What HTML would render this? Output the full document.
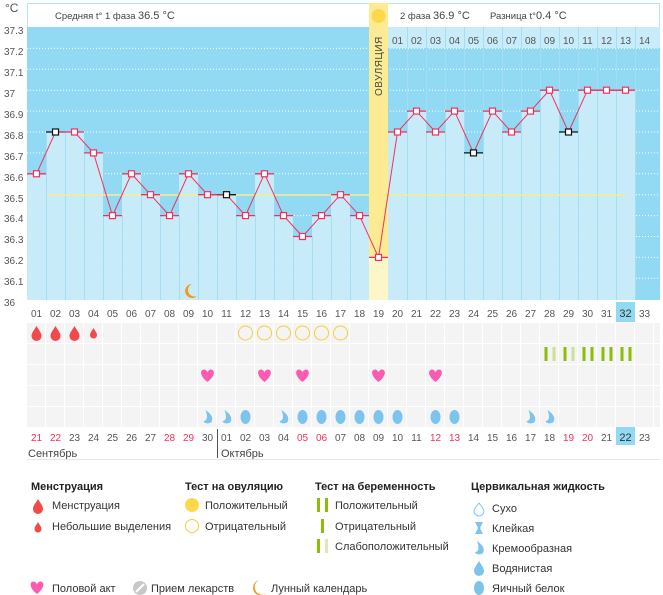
<!DOCTYPE html>
<html><head><meta charset="utf-8"><style>
html,body{margin:0;padding:0;background:#fff;}
svg{display:block;font-family:"Liberation Sans",sans-serif;}
.t{font-size:10px;fill:#555;}
.d{font-size:10px;fill:#555;text-anchor:middle;}
.h{font-size:11px;font-weight:bold;fill:#222;}
.l{font-size:11px;fill:#333;}
</style></head><body>
<svg width="663" height="595" viewBox="0 0 663 595">
<defs>
<pattern id="gp" x="27" y="0" width="19" height="595" patternUnits="userSpaceOnUse">
<rect x="0" y="0" width="18" height="595" fill="#f4f4f4"/></pattern>
<path id="drop" d="M0,-7 C3,-2 5,0 5,3 A5,5 0 0 1 -5,3 C-5,0 -3,-2 0,-7Z"/>
<path id="sdrop" d="M0,-5 C2,-1.5 3.5,0 3.5,2 A3.5,3.5 0 0 1 -3.5,2 C-3.5,0 -2,-1.5 0,-5Z"/>
<path id="heart" d="M0,6 C-9,-1 -7,-7 -3,-6.5 C-1.5,-6 0,-4.5 0,-3.5 C0,-4.5 1.5,-6 3,-6.5 C7,-7 9,-1 0,6Z"/>
<path id="cream" d="M-2,-7 C4,-3 6,1 4,5 C2,7 -3,7 -4,4 C-1,4 1,1 -2,-7Z"/>
</defs>
<text x="5" y="12" font-size="12" fill="#555">°C</text>
<rect x="27.5" y="3.5" width="632" height="24" fill="#fff" stroke="#b6e4f6"/>
<text x="55" y="19" font-size="9.5" fill="#444">Средняя t° 1 фаза</text>
<text x="138" y="19" font-size="11" fill="#444">36.5 °C</text>
<text x="400" y="19" font-size="9.5" fill="#444">2 фаза</text>
<text x="433" y="19" font-size="11" fill="#444">36.9 °C</text>
<text x="490" y="19" font-size="9.5" fill="#444">Разница t°</text>
<text x="536" y="19" font-size="11" fill="#444">0.4 °C</text>
<rect x="27" y="27" width="633" height="273" fill="#92d9f3"/>
<rect x="388" y="27" width="272" height="21" fill="#c8ecfa"/>
<g stroke="#fff" stroke-dasharray="1,2" stroke-width="1">
<line x1="27" x2="660" y1="48.4" y2="48.4"/><line x1="27" x2="660" y1="69.3" y2="69.3"/><line x1="27" x2="660" y1="90.2" y2="90.2"/><line x1="27" x2="660" y1="111.1" y2="111.1"/><line x1="27" x2="660" y1="132" y2="132"/><line x1="27" x2="660" y1="152.9" y2="152.9"/><line x1="27" x2="660" y1="173.8" y2="173.8"/><line x1="27" x2="660" y1="194.7" y2="194.7"/><line x1="27" x2="660" y1="215.6" y2="215.6"/><line x1="27" x2="660" y1="236.5" y2="236.5"/><line x1="27" x2="660" y1="257.4" y2="257.4"/><line x1="27" x2="660" y1="278.3" y2="278.3"/>
</g>
<g fill="#cdedfb" fill-opacity="0.92">
<rect x="27" y="173.8" width="19" height="126.2"/><rect x="46" y="132" width="19" height="168"/><rect x="65" y="132" width="19" height="168"/><rect x="84" y="152.9" width="19" height="147.1"/><rect x="103" y="215.6" width="19" height="84.4"/><rect x="122" y="173.8" width="19" height="126.2"/><rect x="141" y="194.7" width="19" height="105.3"/><rect x="160" y="215.6" width="19" height="84.4"/><rect x="179" y="173.8" width="19" height="126.2"/><rect x="198" y="194.7" width="19" height="105.3"/><rect x="217" y="194.7" width="19" height="105.3"/><rect x="236" y="215.6" width="19" height="84.4"/><rect x="255" y="173.8" width="19" height="126.2"/><rect x="274" y="215.6" width="19" height="84.4"/><rect x="293" y="236.5" width="19" height="63.5"/><rect x="312" y="215.6" width="19" height="84.4"/><rect x="331" y="194.7" width="19" height="105.3"/><rect x="350" y="215.6" width="19" height="84.4"/>
<rect x="388" y="132" width="19" height="168"/><rect x="407" y="111.1" width="19" height="188.9"/><rect x="426" y="132" width="19" height="168"/><rect x="445" y="111.1" width="19" height="188.9"/><rect x="464" y="152.9" width="19" height="147.1"/><rect x="483" y="111.1" width="19" height="188.9"/><rect x="502" y="132" width="19" height="168"/><rect x="521" y="111.1" width="19" height="188.9"/><rect x="540" y="90.2" width="19" height="209.8"/><rect x="559" y="132" width="19" height="168"/><rect x="578" y="90.2" width="19" height="209.8"/><rect x="597" y="90.2" width="19" height="209.8"/><rect x="616" y="90.2" width="19" height="209.8"/>
</g>
<rect x="369" y="3" width="19" height="254.4" fill="#fdeb93"/>
<rect x="369" y="257.4" width="19" height="42.6" fill="#fdf6c8"/>
<circle cx="378.5" cy="16" r="7" fill="#fcd94a"/>
<text transform="translate(382,96) rotate(-90)" font-size="10" fill="#444" letter-spacing="0.5">ОВУЛЯЦИЯ</text>
<g stroke="#a3def4" stroke-width="1">
<line x1="46.5" x2="46.5" y1="132" y2="300"/><line x1="65.5" x2="65.5" y1="132" y2="300"/><line x1="84.5" x2="84.5" y1="152" y2="300"/><line x1="103.5" x2="103.5" y1="215" y2="300"/><line x1="122.5" x2="122.5" y1="215" y2="300"/><line x1="141.5" x2="141.5" y1="194" y2="300"/><line x1="160.5" x2="160.5" y1="215" y2="300"/><line x1="179.5" x2="179.5" y1="215" y2="300"/><line x1="198.5" x2="198.5" y1="194" y2="300"/><line x1="217.5" x2="217.5" y1="194" y2="300"/><line x1="236.5" x2="236.5" y1="215" y2="300"/><line x1="255.5" x2="255.5" y1="215" y2="300"/><line x1="274.5" x2="274.5" y1="215" y2="300"/><line x1="293.5" x2="293.5" y1="236" y2="300"/><line x1="312.5" x2="312.5" y1="236" y2="300"/><line x1="331.5" x2="331.5" y1="215" y2="300"/><line x1="350.5" x2="350.5" y1="215" y2="300"/>
<line x1="407.5" x2="407.5" y1="27" y2="300"/><line x1="426.5" x2="426.5" y1="27" y2="300"/><line x1="445.5" x2="445.5" y1="27" y2="300"/><line x1="464.5" x2="464.5" y1="27" y2="300"/><line x1="483.5" x2="483.5" y1="27" y2="300"/><line x1="502.5" x2="502.5" y1="27" y2="300"/><line x1="521.5" x2="521.5" y1="27" y2="300"/><line x1="540.5" x2="540.5" y1="27" y2="300"/><line x1="559.5" x2="559.5" y1="27" y2="300"/><line x1="578.5" x2="578.5" y1="27" y2="300"/><line x1="597.5" x2="597.5" y1="27" y2="300"/><line x1="616.5" x2="616.5" y1="27" y2="300"/><line x1="635.5" x2="635.5" y1="27" y2="300"/>
</g>
<g class="d"><text x="397.5" y="44">01</text><text x="416.5" y="44">02</text><text x="435.5" y="44">03</text><text x="454.5" y="44">04</text><text x="473.5" y="44">05</text><text x="492.5" y="44">06</text><text x="511.5" y="44">07</text><text x="530.5" y="44">08</text><text x="549.5" y="44">09</text><text x="568.5" y="44">10</text><text x="587.5" y="44">11</text><text x="606.5" y="44">12</text><text x="625.5" y="44">13</text><text x="644.5" y="44">14</text></g>
<line x1="47" x2="625" y1="195" y2="195" stroke="#f9ec8a" stroke-width="1.5"/>
<g stroke="#f0325a" stroke-width="1.3">
<line x1="27" x2="46" y1="173.8" y2="173.8"/><line x1="65" x2="84" y1="132" y2="132"/><line x1="84" x2="103" y1="152.9" y2="152.9"/><line x1="103" x2="122" y1="215.6" y2="215.6"/><line x1="122" x2="141" y1="173.8" y2="173.8"/><line x1="141" x2="160" y1="194.7" y2="194.7"/><line x1="160" x2="179" y1="215.6" y2="215.6"/><line x1="179" x2="198" y1="173.8" y2="173.8"/><line x1="198" x2="217" y1="194.7" y2="194.7"/><line x1="236" x2="255" y1="215.6" y2="215.6"/><line x1="255" x2="274" y1="173.8" y2="173.8"/><line x1="274" x2="293" y1="215.6" y2="215.6"/><line x1="293" x2="312" y1="236.5" y2="236.5"/><line x1="312" x2="331" y1="215.6" y2="215.6"/><line x1="331" x2="350" y1="194.7" y2="194.7"/><line x1="350" x2="369" y1="215.6" y2="215.6"/><line x1="369" x2="388" y1="257.4" y2="257.4"/><line x1="388" x2="407" y1="132" y2="132"/><line x1="407" x2="426" y1="111.1" y2="111.1"/><line x1="426" x2="445" y1="132" y2="132"/><line x1="445" x2="464" y1="111.1" y2="111.1"/><line x1="483" x2="502" y1="111.1" y2="111.1"/><line x1="502" x2="521" y1="132" y2="132"/><line x1="521" x2="540" y1="111.1" y2="111.1"/><line x1="540" x2="559" y1="90.2" y2="90.2"/><line x1="578" x2="597" y1="90.2" y2="90.2"/><line x1="597" x2="616" y1="90.2" y2="90.2"/><line x1="616" x2="635" y1="90.2" y2="90.2"/>
</g>
<g stroke="#111" stroke-width="1.3"><line x1="46" x2="65" y1="132" y2="132"/><line x1="217" x2="236" y1="194.7" y2="194.7"/><line x1="464" x2="483" y1="152.9" y2="152.9"/><line x1="559" x2="578" y1="132" y2="132"/></g>
<polyline fill="none" stroke="#f0325a" stroke-width="1" points="36.5,173.8 55.5,132 74.5,132 93.5,152.9 112.5,215.6 131.5,173.8 150.5,194.7 169.5,215.6 188.5,173.8 207.5,194.7 226.5,194.7 245.5,215.6 264.5,173.8 283.5,215.6 302.5,236.5 321.5,215.6 340.5,194.7 359.5,215.6 378.5,257.4 397.5,132 416.5,111.1 435.5,132 454.5,111.1 473.5,152.9 492.5,111.1 511.5,132 530.5,111.1 549.5,90.2 568.5,132 587.5,90.2 606.5,90.2 625.5,90.2"/>
<g fill="#fff" stroke="#f0325a" stroke-width="1.2">
<rect x="33.5" y="170.8" width="6" height="6"/><rect x="71.5" y="129" width="6" height="6"/><rect x="90.5" y="149.9" width="6" height="6"/><rect x="109.5" y="212.6" width="6" height="6"/><rect x="128.5" y="170.8" width="6" height="6"/><rect x="147.5" y="191.7" width="6" height="6"/><rect x="166.5" y="212.6" width="6" height="6"/><rect x="185.5" y="170.8" width="6" height="6"/><rect x="204.5" y="191.7" width="6" height="6"/><rect x="242.5" y="212.6" width="6" height="6"/><rect x="261.5" y="170.8" width="6" height="6"/><rect x="280.5" y="212.6" width="6" height="6"/><rect x="299.5" y="233.5" width="6" height="6"/><rect x="318.5" y="212.6" width="6" height="6"/><rect x="337.5" y="191.7" width="6" height="6"/><rect x="356.5" y="212.6" width="6" height="6"/><rect x="375.5" y="254.4" width="6" height="6"/><rect x="394.5" y="129" width="6" height="6"/><rect x="413.5" y="108.1" width="6" height="6"/><rect x="432.5" y="129" width="6" height="6"/><rect x="451.5" y="108.1" width="6" height="6"/><rect x="489.5" y="108.1" width="6" height="6"/><rect x="508.5" y="129" width="6" height="6"/><rect x="527.5" y="108.1" width="6" height="6"/><rect x="546.5" y="87.2" width="6" height="6"/><rect x="584.5" y="87.2" width="6" height="6"/><rect x="603.5" y="87.2" width="6" height="6"/><rect x="622.5" y="87.2" width="6" height="6"/>
</g>
<g fill="#fff" stroke="#111" stroke-width="1.2"><rect x="52.5" y="129" width="6" height="6"/><rect x="223.5" y="191.7" width="6" height="6"/><rect x="470.5" y="149.9" width="6" height="6"/><rect x="565.5" y="129" width="6" height="6"/></g>
<path d="M192,284 A7,7 0 1 0 197,296 A5.5,5.5 0 1 1 192,284Z" fill="#f39a1e"/>
<g class="t"><text x="4" y="34">37.3</text><text x="4" y="55">37.2</text><text x="4" y="76">37.1</text><text x="4" y="97">37</text><text x="4" y="118">36.9</text><text x="4" y="139">36.8</text><text x="4" y="160">36.7</text><text x="4" y="181">36.6</text><text x="4" y="202">36.5</text><text x="4" y="222">36.4</text><text x="4" y="243">36.3</text><text x="4" y="264">36.2</text><text x="4" y="285">36.1</text><text x="4" y="306">36</text></g>
<rect x="616" y="302" width="19" height="20" fill="#92d9f3"/>
<g class="d"><text x="36.5" y="317">01</text><text x="55.5" y="317">02</text><text x="74.5" y="317">03</text><text x="93.5" y="317">04</text><text x="112.5" y="317">05</text><text x="131.5" y="317">06</text><text x="150.5" y="317">07</text><text x="169.5" y="317">08</text><text x="188.5" y="317">09</text><text x="207.5" y="317">10</text><text x="226.5" y="317">11</text><text x="245.5" y="317">12</text><text x="264.5" y="317">13</text><text x="283.5" y="317">14</text><text x="302.5" y="317">15</text><text x="321.5" y="317">16</text><text x="340.5" y="317">17</text><text x="359.5" y="317">18</text><text x="378.5" y="317">19</text><text x="397.5" y="317">20</text><text x="416.5" y="317">21</text><text x="435.5" y="317">22</text><text x="454.5" y="317">23</text><text x="473.5" y="317">24</text><text x="492.5" y="317">25</text><text x="511.5" y="317">26</text><text x="530.5" y="317">27</text><text x="549.5" y="317">28</text><text x="568.5" y="317">29</text><text x="587.5" y="317">30</text><text x="606.5" y="317">31</text><text x="625.5" y="317" font-size="11" fill="#333">32</text><text x="644.5" y="317">33</text></g>
<rect x="27" y="323" width="633" height="20" fill="url(#gp)"/>
<rect x="27" y="344" width="633" height="20" fill="url(#gp)"/>
<rect x="27" y="365" width="633" height="20" fill="url(#gp)"/>
<rect x="27" y="386" width="633" height="20" fill="url(#gp)"/>
<rect x="27" y="407" width="633" height="20" fill="url(#gp)"/>
<g fill="#f24a4a"><use href="#drop" x="36.5" y="333"/><use href="#drop" x="55.5" y="333"/><use href="#drop" x="74.5" y="333"/><use href="#sdrop" x="93.5" y="333"/></g>
<g fill="none" stroke="#f7cd3a" stroke-width="1"><circle cx="245.5" cy="333" r="7"/><circle cx="264.5" cy="333" r="7"/><circle cx="283.5" cy="333" r="7"/><circle cx="302.5" cy="333" r="7"/><circle cx="321.5" cy="333" r="7"/><circle cx="340.5" cy="333" r="7"/></g>
<g fill="#8bbd0a"><rect x="544.5" y="347" width="3" height="14"/><rect x="563.5" y="347" width="3" height="14"/><rect x="582.5" y="347" width="3" height="14"/><rect x="590.5" y="347" width="3" height="14"/><rect x="601.5" y="347" width="3" height="14"/><rect x="609.5" y="347" width="3" height="14"/><rect x="620.5" y="347" width="3" height="14"/><rect x="628.5" y="347" width="3" height="14"/></g>
<g fill="#cde09a"><rect x="552.5" y="347" width="3" height="14"/><rect x="571.5" y="347" width="3" height="14"/></g>
<g fill="#fc5bb2"><use href="#heart" x="207.5" y="376"/><use href="#heart" x="264.5" y="376"/><use href="#heart" x="302.5" y="376"/><use href="#heart" x="378.5" y="376"/><use href="#heart" x="435.5" y="376"/></g>
<g fill="#7cc4ee"><use href="#cream" x="207.5" y="417"/><use href="#cream" x="226.5" y="417"/><use href="#cream" x="283.5" y="417"/><use href="#cream" x="530.5" y="417"/><use href="#cream" x="549.5" y="417"/>
<ellipse cx="245.5" cy="417" rx="5" ry="7"/><ellipse cx="302.5" cy="417" rx="5" ry="7"/><ellipse cx="321.5" cy="417" rx="5" ry="7"/><ellipse cx="340.5" cy="417" rx="5" ry="7"/><ellipse cx="359.5" cy="417" rx="5" ry="7"/><ellipse cx="378.5" cy="417" rx="5" ry="7"/><ellipse cx="397.5" cy="417" rx="5" ry="7"/><ellipse cx="435.5" cy="417" rx="5" ry="7"/><ellipse cx="454.5" cy="417" rx="5" ry="7"/></g>
<rect x="616" y="427" width="19" height="18" fill="#92d9f3"/>
<g class="d"><text x="36.5" y="441" fill="#f0325a">21</text><text x="55.5" y="441" fill="#f0325a">22</text><text x="74.5" y="441">23</text><text x="93.5" y="441">24</text><text x="112.5" y="441">25</text><text x="131.5" y="441">26</text><text x="150.5" y="441">27</text><text x="169.5" y="441" fill="#f0325a">28</text><text x="188.5" y="441" fill="#f0325a">29</text><text x="207.5" y="441">30</text><text x="226.5" y="441">01</text><text x="245.5" y="441">02</text><text x="264.5" y="441">03</text><text x="283.5" y="441">04</text><text x="302.5" y="441" fill="#f0325a">05</text><text x="321.5" y="441" fill="#f0325a">06</text><text x="340.5" y="441">07</text><text x="359.5" y="441">08</text><text x="378.5" y="441">09</text><text x="397.5" y="441">10</text><text x="416.5" y="441">11</text><text x="435.5" y="441" fill="#f0325a">12</text><text x="454.5" y="441" fill="#f0325a">13</text><text x="473.5" y="441">14</text><text x="492.5" y="441">15</text><text x="511.5" y="441">16</text><text x="530.5" y="441">17</text><text x="549.5" y="441">18</text><text x="568.5" y="441" fill="#f0325a">19</text><text x="587.5" y="441" fill="#f0325a">20</text><text x="606.5" y="441">21</text><text x="625.5" y="441" font-size="11" fill="#333">22</text><text x="644.5" y="441">23</text></g>
<line x1="217.5" x2="217.5" y1="429" y2="458" stroke="#555"/>
<text x="28" y="457" font-size="11" fill="#444">Сентябрь</text>
<text x="221" y="457" font-size="11" fill="#444">Октябрь</text>
<line x1="27" x2="660" y1="459.5" y2="459.5" stroke="#e6e6e6"/>
<text class="h" x="31" y="490">Менструация</text>
<text class="h" x="185" y="490">Тест на овуляцию</text>
<text class="h" x="315" y="490">Тест на беременность</text>
<text class="h" x="471" y="490">Цервикальная жидкость</text>
<use href="#drop" x="38" y="506" fill="#f24a4a"/><text class="l" x="52" y="509">Менструация</text>
<use href="#sdrop" x="38" y="527" fill="#f24a4a"/><text class="l" x="52" y="530">Небольшие выделения</text>
<circle cx="192" cy="505" r="7" fill="#fcd94a"/><text class="l" x="205" y="509">Положительный</text>
<circle cx="192" cy="526" r="6.5" fill="none" stroke="#f7cd3a"/><text class="l" x="205" y="530">Отрицательный</text>
<rect x="317" y="498" width="3" height="14" fill="#8bbd0a"/><rect x="325" y="498" width="3" height="14" fill="#8bbd0a"/><text class="l" x="335" y="509">Положительный</text>
<rect x="321" y="519" width="3" height="14" fill="#8bbd0a"/><text class="l" x="335" y="530">Отрицательный</text>
<rect x="317" y="539" width="3" height="14" fill="#8bbd0a"/><rect x="325" y="539" width="3" height="14" fill="#dde9bd"/><text class="l" x="335" y="550">Слабоположительный</text>
<path d="M479,503 C482,507 484,509 484,511 A5,5 0 0 1 474,511 C474,509 476,507 479,503Z" fill="none" stroke="#7cc4ee"/><text class="l" x="492" y="512">Сухо</text>
<path d="M475,522 L483,522 L480,528 L483,534 L475,534 L478,528Z" fill="#7cc4ee"/><text class="l" x="492" y="532">Клейкая</text>
<use href="#cream" x="479" y="548" fill="#7cc4ee"/><text class="l" x="492" y="552">Кремообразная</text>
<use href="#drop" x="479" y="568" fill="#7cc4ee"/><text class="l" x="492" y="572">Водянистая</text>
<ellipse cx="479" cy="588" rx="5" ry="7" fill="#7cc4ee"/><text class="l" x="492" y="592">Яичный белок</text>
<use href="#heart" x="37" y="588" fill="#fc5bb2"/><text class="l" x="52" y="592">Половой акт</text>
<circle cx="140" cy="588" r="7" fill="#c8c8c8"/><line x1="136" y1="592" x2="144" y2="584" stroke="#fff" stroke-width="2"/><text class="l" x="151" y="592">Прием лекарств</text>
<path d="M259,580 A8,8 0 1 0 266,594 A6.5,6.5 0 1 1 259,580Z" fill="#f39a1e"/><text class="l" x="271" y="592">Лунный календарь</text>
</svg>
</body></html>
